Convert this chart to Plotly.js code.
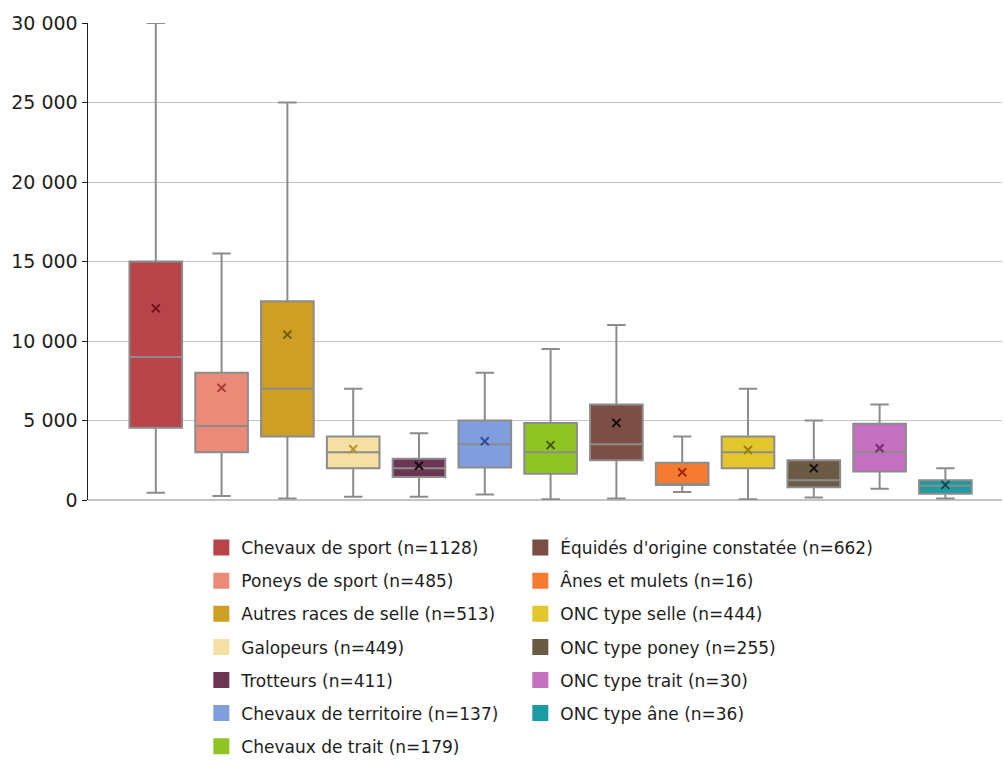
<!DOCTYPE html>
<html>
<head>
<meta charset="utf-8">
<script src="https://cdn.plot.ly/plotly-3.0.1.min.js"></script>
<style>html,body{margin:0;padding:0;background:#fff;}#chart{width:1004px;height:760px;}</style>
</head>
<body>
<div id="chart"></div>
<script>
const categories = [
  "Chevaux de sport (n=1128)",
  "Poneys de sport (n=485)",
  "Autres races de selle (n=513)",
  "Galopeurs (n=449)",
  "Trotteurs (n=411)",
  "Chevaux de territoire (n=137)",
  "Chevaux de trait (n=179)",
  "Équidés d'origine constatée (n=662)",
  "Ânes et mulets (n=16)",
  "ONC type selle (n=444)",
  "ONC type poney (n=255)",
  "ONC type trait (n=30)",
  "ONC type âne (n=36)"
];
const lowerWhisker = [450, 250, 100, 200, 200, 350, 50, 100, 500, 50, 150, 700, 100];
const q1Values     = [4550, 3000, 4000, 2000, 1450, 2050, 1650, 2500, 950, 2000, 800, 1800, 400];
const medianValues = [9000, 4650, 7000, 3000, 2000, 3500, 3000, 3500, 950, 3000, 1250, 3000, 900];
const q3Values     = [15000, 8000, 12500, 4000, 2600, 5000, 4850, 6000, 2350, 4000, 2500, 4800, 1250];
const upperWhisker = [30000, 15500, 25000, 7000, 4200, 8000, 9500, 11000, 4000, 7000, 5000, 6000, 2000];
const meanValues   = [12050, 7050, 10400, 3200, 2150, 3700, 3450, 4850, 1750, 3150, 2000, 3250, 950];
const fillColors = ["#b8444a", "#ec8a79", "#cf9e24", "#f4e0a2", "#6c3652", "#809ede", "#90c424", "#7b4f45", "#f57b31", "#e3c62b", "#6b5b45", "#c570c1", "#1b9ba2"];
const meanColors = ["#6e1418", "#a83a30", "#7a5a08", "#b8902a", "#1a0a12", "#2e4a9a", "#3e5a08", "#1a0a08", "#a02808", "#9a8008", "#1a140c", "#7a2a78", "#0a4a50"];
const yTicks = [0, 5000, 10000, 15000, 20000, 25000, 30000];
const yTickLabels = ["0", "5 000", "10 000", "15 000", "20 000", "25 000", "30 000"];

const FONT = "DejaVu Sans, sans-serif";
const traces = [];
categories.forEach((name, i) => {
  traces.push({
    type: "box",
    name: name,
    x: [i],
    q1: [q1Values[i]],
    median: [medianValues[i]],
    q3: [q3Values[i]],
    lowerfence: [lowerWhisker[i]],
    upperfence: [upperWhisker[i]],
    boxpoints: false,
    width: 0.8,
    whiskerwidth: 0.35,
    fillcolor: fillColors[i],
    line: {color: "#8c8c8c", width: 2},
    showlegend: false,
    hoverinfo: "skip"
  });
});
traces.push({
  type: "scatter",
  mode: "markers",
  x: categories.map((c, i) => i),
  y: meanValues,
  marker: {symbol: "x-thin-open", size: 8, color: meanColors, line: {width: 2, color: meanColors}},
  showlegend: false,
  hoverinfo: "skip"
});
// legend entries
categories.forEach((name, i) => {
  traces.push({
    type: "scatter",
    mode: "markers",
    x: [null],
    y: [null],
    name: name,
    legendgroup: "g" + i,
    legend: i < 7 ? "legend" : "legend2",
    marker: {symbol: "square", size: 16, color: fillColors[i], line: {width: 0}},
    showlegend: true,
    hoverinfo: "skip"
  });
});

const legendCommon = {
  orientation: "v",
  yanchor: "top",
  xanchor: "left",
  y: -0.063,
  font: {family: FONT, size: 17, color: "#1e1e1e"},
  traceorder: "grouped",
  tracegroupgap: 8,
  maxheight: 400,
  bgcolor: "rgba(0,0,0,0)",
  itemclick: false,
  itemdoubleclick: false
};

const layout = {
  width: 1004,
  height: 760,
  margin: {l: 88, r: 2, t: 23, b: 260, autoexpand: false},
  paper_bgcolor: "#ffffff",
  plot_bgcolor: "#ffffff",
  font: {family: FONT, size: 17, color: "#1e1e1e"},
  xaxis: {
    range: [-1.03, 12.86],
    showticklabels: false,
    showgrid: false,
    zeroline: false,
    showline: false,
    ticks: "",
    fixedrange: true
  },
  yaxis: {
    range: [0, 30000],
    tickvals: yTicks,
    ticktext: yTickLabels,
    showgrid: true,
    gridcolor: "#c4c4c4",
    gridwidth: 1,
    zeroline: true,
    zerolinecolor: "#c4c4c4",
    zerolinewidth: 1.5,
    showline: true,
    linecolor: "#1e1e1e",
    linewidth: 1.5,
    ticks: "outside",
    ticklen: 5,
    tickcolor: "#1e1e1e",
    tickfont: {family: FONT, size: 19, color: "#1e1e1e"},
    fixedrange: true
  },
  legend: Object.assign({}, legendCommon, {x: 0.124}),
  legend2: Object.assign({}, legendCommon, {x: 0.473}),
  showlegend: true
};

Plotly.newPlot("chart", traces, layout, {displayModeBar: false, staticPlot: true});
</script>
</body>
</html>
